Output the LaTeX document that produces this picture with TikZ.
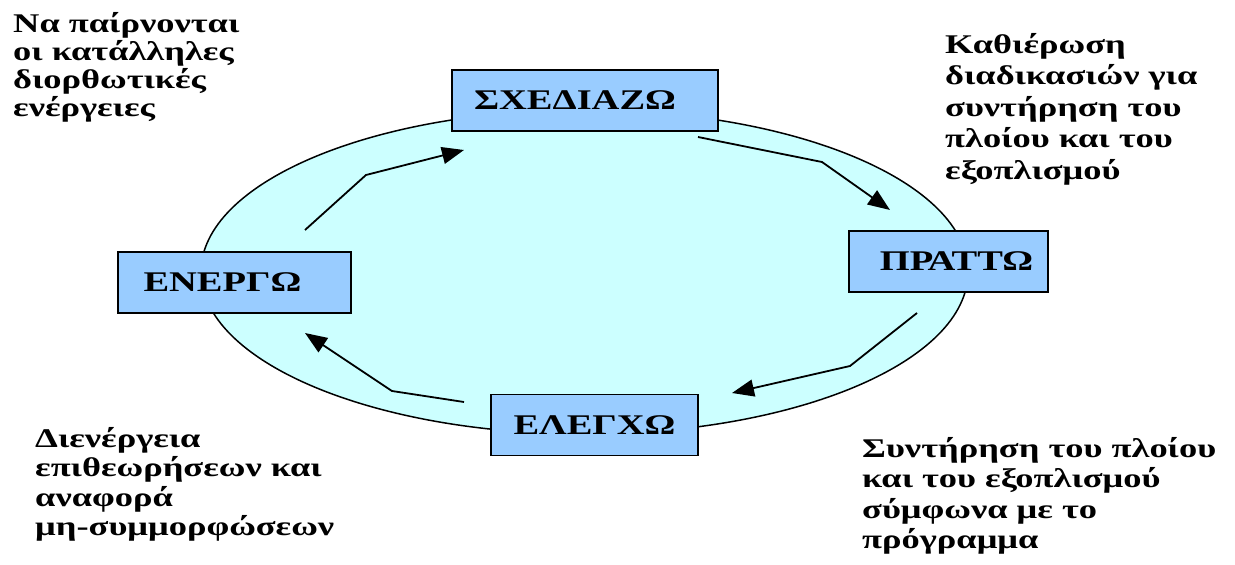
\documentclass[tikz,border=0pt]{standalone}
\usepackage{fontspec}
\usetikzlibrary{arrows.meta}
\newfontfamily\grfont[FakeStretch=1.35]{Liberation Serif}
\definecolor{ringfill}{HTML}{CCFFFF}
\definecolor{boxfill}{HTML}{99CCFF}
\tikzset{
  stagebox/.style={draw=black, line width=1.6pt, fill=boxfill, inner sep=0pt,
    minimum height=61pt, font={\grfont\bfseries\fontsize{28.5}{30}\selectfont}},
  note/.style={anchor=north west, inner sep=0pt, align=left},
  flow/.style={line width=1.8pt, -{Triangle[length=22pt,width=17pt]}},
}
\begin{document}
\begin{tikzpicture}[x=1pt,y=-1pt]
\useasboundingbox (0,0) rectangle (1235,565);
% the cycle ring
\draw[line width=1.5pt, fill=ringfill] (584.5,272) ellipse [x radius=383.5, y radius=162];

% arrow paths around the ring
\coordinate (a1s) at (698,137); \coordinate (a1m) at (822,162); \coordinate (a1e) at (890,210);
\coordinate (a2s) at (917,313); \coordinate (a2m) at (850,366); \coordinate (a2e) at (732,393);
\coordinate (a3s) at (464,402); \coordinate (a3m) at (392,391); \coordinate (a3e) at (305,333);
\coordinate (a4s) at (305,230); \coordinate (a4m) at (366,175); \coordinate (a4e) at (464,150);
\draw[flow] (a1s) -- (a1m) -- (a1e);
\draw[flow] (a2s) -- (a2m) -- (a2e);
\draw[flow] (a3s) -- (a3m) -- (a3e);
\draw[flow] (a4s) -- (a4m) -- (a4e);

% the four stages (labels sit a little off centre inside their boxes)
\node[stagebox, minimum width=266pt] (plan) at (585,100.5) {\hspace*{-20pt}ΣΧΕΔΙΑΖΩ};
\node[stagebox, minimum width=199pt] (do) at (948.5,261.5) {\hspace*{16pt}ΠΡΑΤΤΩ};
\node[stagebox, minimum width=207pt] (check) at (594.5,425) {ΕΛΕΓΧΩ};
\node[stagebox, minimum width=233pt] (act) at (234.5,282.5) {\hspace*{-24pt}ΕΝΕΡΓΩ};

% notes beside the stages
\node[note, font={\grfont\bfseries\fontsize{27}{28}\selectfont}] (actnote) at (13,12)
  {Να παίρνονται\\οι κατάλληλες\\διορθωτικές\\ενέργειες};
\node[note, font={\grfont\bfseries\fontsize{27}{31.5}\selectfont}] (plannote) at (945,33)
  {Καθιέρωση\\διαδικασιών για\\συντήρηση του\\πλοίου και του\\εξοπλισμού};
\node[note, font={\grfont\bfseries\fontsize{27}{29.5}\selectfont}] (checknote) at (35,427)
  {Διενέργεια\\επιθεωρήσεων και\\αναφορά\\μη-συμμορφώσεων};
\node[note, font={\grfont\bfseries\fontsize{27}{30.5}\selectfont}] (donote) at (862,437)
  {Συντήρηση του πλοίου\\και του εξοπλισμού\\σύμφωνα με το\\πρόγραμμα};
\end{tikzpicture}
\end{document}
